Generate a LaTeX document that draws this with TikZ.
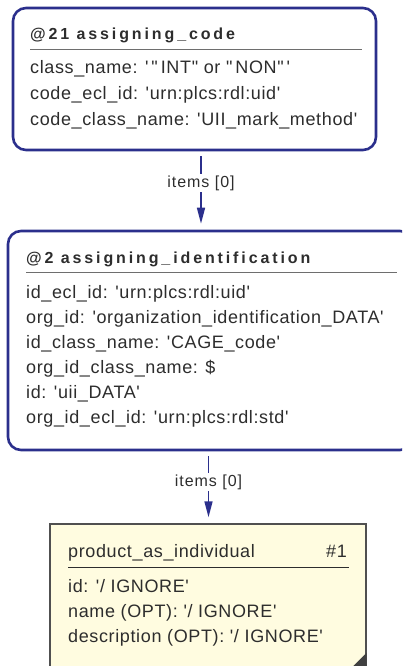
\documentclass[tikz,border=0pt]{standalone}
\usepackage{fontspec}
\setmainfont{Liberation Sans}
\newfontfamily\bodyf[LetterSpace=3.5,Ligatures={TeXOff,NoCommon}]{Liberation Sans}
\newfontfamily\titlef[LetterSpace=18,Ligatures={TeXOff,NoCommon}]{Liberation Sans}
\newfontfamily\lblf[LetterSpace=6,Ligatures={TeXOff,NoCommon}]{Liberation Sans}
\usetikzlibrary{arrows.meta}
\definecolor{edgeblue}{RGB}{43,47,140}
\definecolor{txtgray}{RGB}{45,45,45}
\definecolor{rulegray}{RGB}{110,110,110}
\definecolor{notefill}{RGB}{255,252,224}
\definecolor{noteline}{RGB}{80,80,80}
\tikzset{
  bluebox/.style={draw=edgeblue, line width=2.6pt, rounded corners=13pt, fill=white, inner sep=0pt},
  notebox/.style={draw=noteline, line width=1.4pt, fill=notefill, inner sep=0pt},
  ttl/.style={anchor=base west, inner sep=0pt, text=txtgray, font=\titlef\fontsize{16}{19}\selectfont\bfseries},
  row/.style={anchor=base west, inner sep=0pt, text=txtgray, font=\bodyf\fontsize{18}{21}\selectfont},
  lbl/.style={inner sep=1.5pt, text=txtgray, font=\lblf\fontsize{16}{19}\selectfont},
  conn/.style={draw=edgeblue, line width=1.6pt},
  hrule/.style={draw=rulegray, line width=1pt},
}
\begin{document}
\begin{tikzpicture}[x=1pt,y=-1pt]
\useasboundingbox (0,0) rectangle (402,666);
\clip (0,0) rectangle (402,666);
% box 1
\node[bluebox, minimum width=363pt, minimum height=142pt] (b1) at (194.5,79) {};
\node[ttl] (b1t) at (30,40) {@21 assigning\_code};
\draw[hrule] (30,49.5) -- (362,49.5);
\node[row] (b1a) at (30,74) {class\_name: '\,"\,INT" or "\,NON"\,'};
\node[row] (b1b) at (30,99.5) {code\_ecl\_id: 'urn:plcs:rdl:uid'};
\node[row] (b1c) at (30,125) {code\_class\_name: 'UII\_mark\_method'};
% box 2
\node[bluebox, minimum width=405pt, minimum height=219pt] (b2) at (210.5,340.5) {};
\node[ttl] (b2t) at (26,263) {@2 assigning\_identification};
\draw[hrule] (26,272) -- (397,272);
\node[row] (b2a) at (26,298) {id\_ecl\_id: 'urn:plcs:rdl:uid'};
\node[row] (b2b) at (26,323) {org\_id: 'organization\_identification\_DATA'};
\node[row] (b2c) at (26,348) {id\_class\_name: 'CAGE\_code'};
\node[row] (b2d) at (26,373) {org\_id\_class\_name: \$};
\node[row] (b2e) at (26,398) {id: 'uii\_DATA'};
\node[row] (b2f) at (26,423) {org\_id\_ecl\_id: 'urn:plcs:rdl:std'};
% box 3
\node[notebox, minimum width=316pt, minimum height=144pt] (b3) at (208,596) {};
\fill[noteline!80!black] (b3.south east) -- ++(0,-16) -- ++(-16,16) -- cycle;
\node[row] (b3t) at (68,557) {product\_as\_individual};
\node[row, anchor=base east] (b3n) at (347,557) {\#1};
\draw[hrule, draw=txtgray] (68,567) -- (349,567);
\node[row] (b3a) at (68,592) {id: '/ IGNORE'};
\node[row] (b3b) at (68,617) {name (OPT): '/ IGNORE'};
\node[row] (b3c) at (68,642) {description (OPT): '/ IGNORE'};
% connectors
\node[lbl] (l1) at (201,183) {items [0]};
\draw[conn, shorten <=5pt] (b1.south -| l1) -- (l1.north);
\draw[conn, -{Triangle[length=16pt,width=8pt]}, shorten >=6pt] (l1.south) -- (b2.north -| l1);
\node[lbl] (l2) at (208.5,482) {items [0]};
\draw[conn, shorten <=5pt] (b2.south -| l2) -- (l2.north);
\draw[conn, -{Triangle[length=16pt,width=8pt]}, shorten >=6pt] (l2.south) -- (b3.north -| l2);
\end{tikzpicture}
\end{document}
